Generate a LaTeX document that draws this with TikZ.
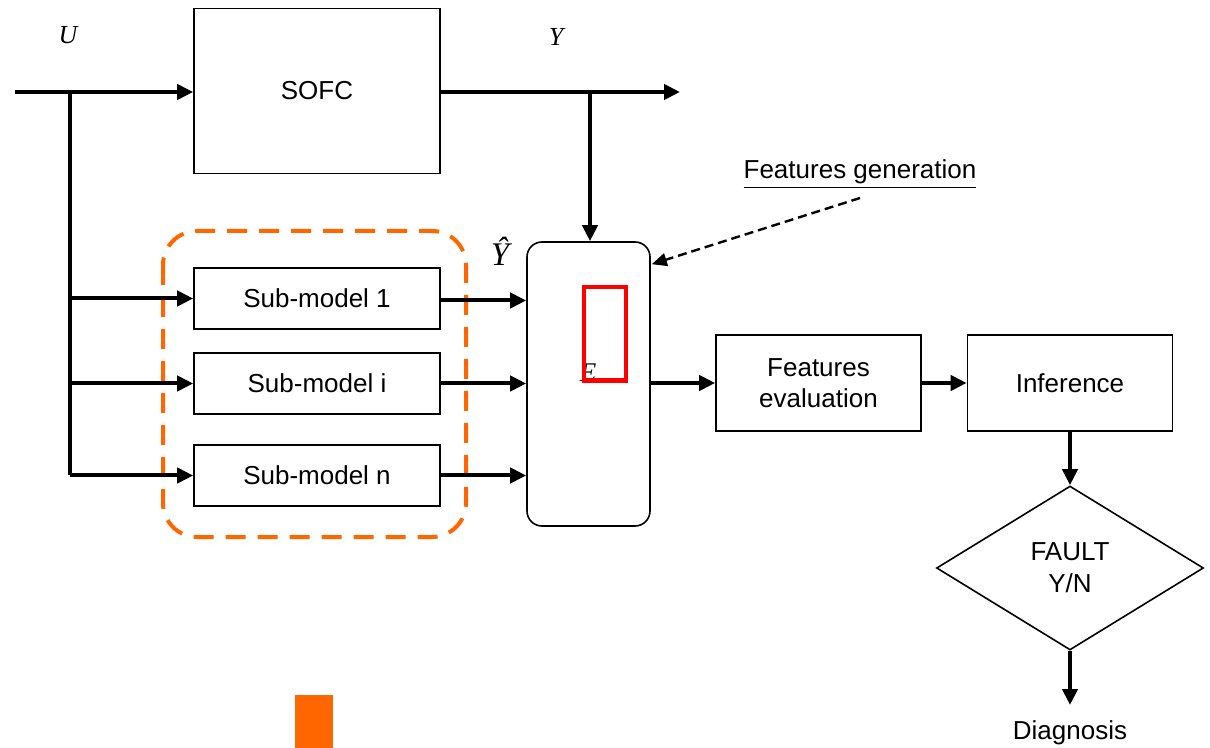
\documentclass[tikz,border=0pt]{standalone}
\usepackage{fontspec}
\setmainfont{Liberation Sans}
\newfontfamily\tms{Liberation Serif}
\usetikzlibrary{arrows.meta,shapes.geometric,calc}
\definecolor{grouporange}{HTML}{FF6600}
\definecolor{markred}{HTML}{FF0000}
\begin{document}
\begin{tikzpicture}[x=0.5pt,y=-0.5pt,
  box/.style={draw,line width=0.8pt,inner sep=0pt,align=center,
    font=\fontsize{13}{15.5}\selectfont},
  flow/.style={line width=2pt,-{Triangle[length=8pt,width=7.5pt]}},
  wire/.style={line width=2pt},
  sym/.style={inner sep=0pt,font=\tms\itshape\fontsize{13}{15}\selectfont},
  lbl/.style={inner sep=0pt,font=\fontsize{13}{15.5}\selectfont}]
\useasboundingbox (0,0) rectangle (1210,748);

% plant and sub-models
\node[box,minimum width=123pt,minimum height=82.5pt] (sofc) at (317,91) {SOFC};
\node[box,minimum width=123pt,minimum height=30.5pt] (sub1) at (317,298.5) {Sub-model 1};
\node[box,minimum width=123pt,minimum height=30.5pt] (subi) at (317,383.5) {Sub-model i};
\node[box,minimum width=123pt,minimum height=30.5pt] (subn) at (317,475.5) {Sub-model n};

% residual / feature block
\node[box,rounded corners=7.5pt,minimum width=61.5pt,minimum height=142pt] (feat) at (588.5,384) {};
\node[sym,anchor=base,font=\tms\itshape\fontsize{13.5}{15}\selectfont] (elbl) at (588,382) {E};
\draw[markred,line width=2.2pt] (584,287) rectangle (626,380.5);

% decision chain
\node[box,minimum width=102.5pt,minimum height=48pt] (eval) at (818.5,383) {Features\\evaluation};
\node[box,minimum width=102.5pt,minimum height=48pt] (infer) at (1070,383) {Inference};
\node[box,shape=diamond,minimum width=133.5pt,minimum height=82pt,
  font=\fontsize{13}{16}\selectfont] (fault) at (1070,568) {FAULT\\Y/N};
\node[lbl] (diag) at (1070,733) {Diagnosis};

% labels
\node[sym] (ulbl) at (68,35) {U};
\node[sym] (ylbl) at (556,37) {Y};
\node[sym,font=\tms\itshape\fontsize{16.5}{18}\selectfont] (yhat) at (500,251) {Ŷ};
\node[lbl] (fgen) at (860,174) {\underline{Features generation}};

% grouping of the sub-models
\draw[grouporange,line width=2pt,dash pattern=on 10pt off 6pt,rounded corners=17pt]
  (163,231) rectangle (466,537);
\fill[grouporange] (295,695) rectangle (333,748);

% signal routing
\coordinate (uin) at (15,92);
\coordinate (usplit) at (70,92);
\coordinate (ubot) at (70,475.5);
\coordinate (yout) at (680,92);
\coordinate (ysplit) at (590,92);
\coordinate (fgtail) at (860,198);
\coordinate (dgtip) at (1070,705);

\draw[flow] (uin) -- (uin -| sofc.west);
\draw[flow] (sofc.east |- yout) -- (yout);
\draw[flow] (ysplit) -- (ysplit |- feat.north);
\draw[wire] (usplit) -- (ubot);
\draw[flow] (usplit |- sub1.west) -- (sub1.west);
\draw[flow] (usplit |- subi.west) -- (subi.west);
\draw[flow] (usplit |- subn.west) -- (subn.west);
\draw[flow] ($(sub1.east)+(0,2)$) -- ($(sub1.east -| feat.west)+(0,2)$);
\draw[flow] (subi.east) -- (subi.east -| feat.west);
\draw[flow] (subn.east) -- (subn.east -| feat.west);
\draw[flow] (feat.east |- eval.west) -- (eval.west);
\draw[flow] (eval.east) -- (infer.west);
\draw[flow] (infer.south) -- (fault.north);
\draw[flow] (fault.south) -- (dgtip);
\draw[line width=1.2pt,dash pattern=on 4.5pt off 2.5pt,-{Triangle[length=7.5pt,width=6.5pt]}]
  (fgtail) -- ($(feat.north east)+(1,23)$);
\end{tikzpicture}
\end{document}
